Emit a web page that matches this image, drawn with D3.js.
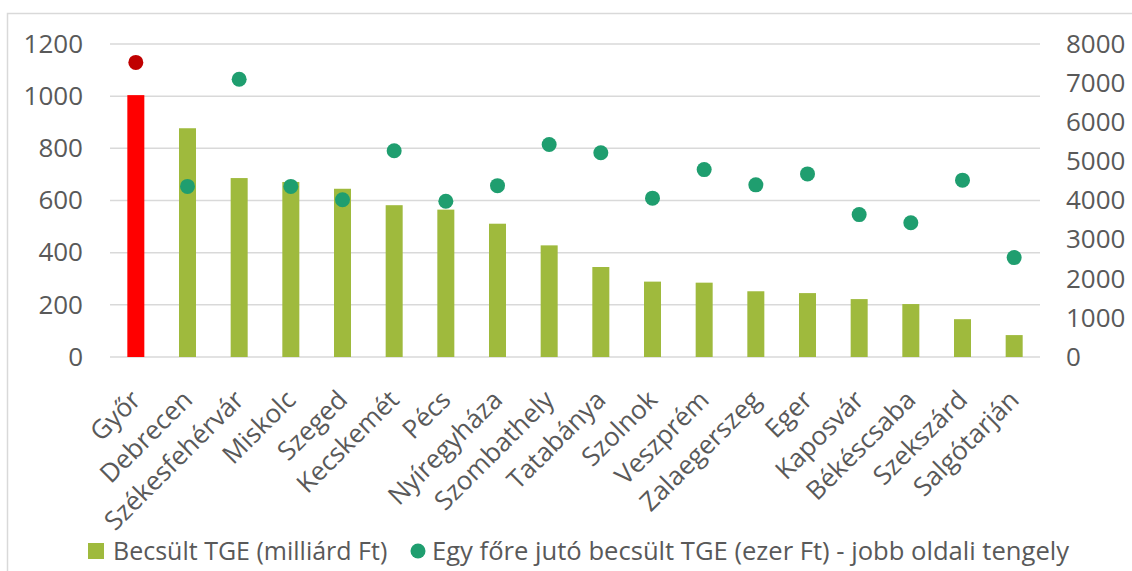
<!DOCTYPE html>
<html>
<head>
<meta charset="utf-8">
<script src="https://cdn.jsdelivr.net/npm/d3@7"></script>
<style>
  html, body { margin: 0; padding: 0; background: #fff; }
  svg { display: block; font-family: "Open Sans", "Noto Sans", sans-serif; }
</style>
</head>
<body>
<svg id="chart" width="1132" height="571"></svg>
<script>
// Cities ranked by estimated total value (TGE)
const cities = ["Győr", "Debrecen", "Székesfehérvár", "Miskolc", "Szeged", "Kecskemét", "Pécs",
  "Nyíregyháza", "Szombathely", "Tatabánya", "Szolnok", "Veszprém", "Zalaegerszeg", "Eger",
  "Kaposvár", "Békéscsaba", "Szekszárd", "Salgótarján"];
// Becsült TGE (milliárd Ft) — left axis
const tgeTotal = [1004, 877, 686, 671, 645, 582, 565, 511, 428, 345, 289, 285, 252, 245, 222, 203, 145, 84];
// Egy főre jutó becsült TGE (ezer Ft) — right axis
const tgePerCapita = [7530, 4360, 7100, 4360, 4020, 5270, 3980, 4380, 5430, 5220, 4060, 4790, 4400, 4680, 3640, 3430, 4520, 2540];
const leftTicks = [0, 200, 400, 600, 800, 1000, 1200];
const rightTicks = [0, 1000, 2000, 3000, 4000, 5000, 6000, 7000, 8000];
const highlightCity = "Győr";
const legendLabels = ["Becsült TGE (milliárd Ft)", "Egy főre jutó becsült TGE (ezer Ft) - jobb oldali tengely"];

const svg = d3.select("#chart");
const textColor = "#595959";
const gridColor = "#d9d9d9";
const barColor = "#9fba3d";
const dotColor = "#1f9e6f";
const font = "'Open Sans', sans-serif";

const plot = { left: 110, right: 1040, top: 44, bottom: 357 };

// outer frame
svg.append("rect")
  .attr("x", 7.5).attr("y", 13.5)
  .attr("width", 1140).attr("height", 600)
  .attr("fill", "none").attr("stroke", gridColor).attr("stroke-width", 1.5);

const x = d3.scaleBand().domain(cities).range([plot.left, plot.right]).paddingInner(0).paddingOuter(0);
const yL = d3.scaleLinear().domain([0, 1200]).range([plot.bottom, plot.top]);
const yR = d3.scaleLinear().domain([0, 8000]).range([plot.bottom, plot.top]);

// horizontal gridlines
svg.append("g").selectAll("line").data(leftTicks).join("line")
  .attr("x1", plot.left).attr("x2", plot.right)
  .attr("y1", d => yL(d)).attr("y2", d => yL(d))
  .attr("stroke", gridColor).attr("stroke-width", 1.5);

// left axis
const axisL = svg.append("g").attr("transform", `translate(${plot.left - 27},0)`)
  .call(d3.axisLeft(yL).tickValues(leftTicks).tickFormat(d3.format("d")).tickSize(0).tickPadding(0));
axisL.select(".domain").remove();
axisL.selectAll("text").attr("fill", textColor).style("font-size", "26px").style("font-family", font);

// right axis
const axisR = svg.append("g").attr("transform", `translate(${plot.right + 26},0)`)
  .call(d3.axisRight(yR).tickValues(rightTicks).tickFormat(d3.format("d")).tickSize(0).tickPadding(0));
axisR.select(".domain").remove();
axisR.selectAll("text").attr("fill", textColor).style("font-size", "26px").style("font-family", font);

// bars
const barW = 17;
svg.append("g").selectAll("rect").data(cities).join("rect")
  .attr("x", d => x(d) + x.bandwidth() / 2 - barW / 2)
  .attr("width", barW)
  .attr("y", (d, i) => yL(tgeTotal[i]))
  .attr("height", (d, i) => yL(0) - yL(tgeTotal[i]))
  .attr("fill", d => d === highlightCity ? "#ff0000" : barColor);

// per-capita dots
svg.append("g").selectAll("circle").data(cities).join("circle")
  .attr("cx", d => x(d) + x.bandwidth() / 2)
  .attr("cy", (d, i) => yR(tgePerCapita[i]))
  .attr("r", 7.5)
  .attr("fill", d => d === highlightCity ? "#c00000" : dotColor);

// x axis category labels, rotated 45°
const axisX = svg.append("g").attr("transform", `translate(0,${plot.bottom})`)
  .call(d3.axisBottom(x).tickSize(0).tickPadding(0));
axisX.select(".domain").remove();
axisX.selectAll(".tick text")
  .attr("fill", textColor)
  .style("font-size", "26px")
  .style("font-family", font)
  .attr("text-anchor", "end")
  .attr("x", 0).attr("y", 0)
  .attr("dy", "0.35em")
  .attr("transform", "translate(0,38) rotate(-45)");

// legend
const legend = svg.append("g").attr("transform", "translate(0,551)");
legend.append("rect").attr("x", 88).attr("y", -8).attr("width", 16).attr("height", 16).attr("fill", barColor);
legend.append("text").attr("x", 113).attr("y", 0).attr("dy", "0.35em")
  .attr("fill", textColor).style("font-size", "25px").style("font-family", font).text(legendLabels[0]);
legend.append("circle").attr("cx", 418).attr("cy", 0).attr("r", 7.5).attr("fill", dotColor);
legend.append("text").attr("x", 432).attr("y", 0).attr("dy", "0.35em")
  .attr("fill", textColor).style("font-size", "25.6px").style("font-family", font).text(legendLabels[1]);
</script>
</body>
</html>
